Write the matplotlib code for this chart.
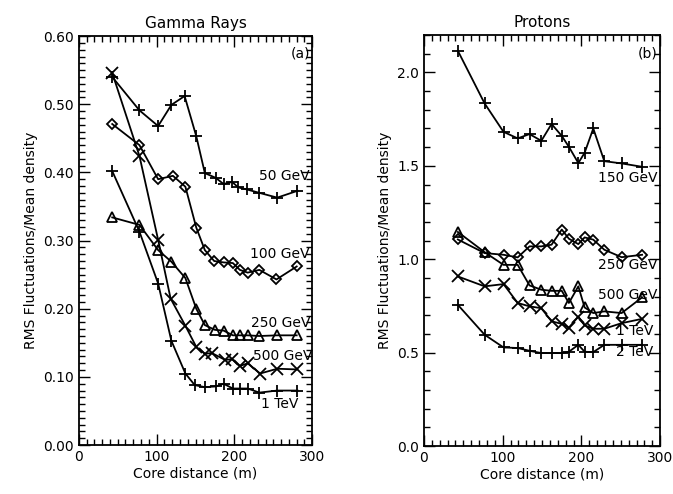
import matplotlib.pyplot as plt
from matplotlib.ticker import MultipleLocator

# ---- Gamma rays (panel a) ----
g50_x = [43, 78, 102, 119, 136, 151, 162, 176, 186, 197, 205, 216, 232, 255, 281]
g50_y = [0.540, 0.491, 0.468, 0.499, 0.512, 0.453, 0.399, 0.392, 0.383, 0.386, 0.378, 0.375, 0.370, 0.363, 0.373]

g100_x = [43, 78, 102, 121, 137, 151, 162, 174, 186, 198, 207, 217, 232, 254, 280]
g100_y = [0.471, 0.440, 0.390, 0.395, 0.379, 0.319, 0.286, 0.270, 0.268, 0.267, 0.257, 0.253, 0.257, 0.243, 0.262]

g250_x = [43, 78, 102, 119, 137, 151, 162, 175, 186, 198, 207, 217, 232, 255, 280]
g250_y = [0.334, 0.323, 0.286, 0.269, 0.245, 0.200, 0.176, 0.169, 0.168, 0.161, 0.161, 0.161, 0.160, 0.161, 0.161]

g500_x = [43, 78, 102, 118, 137, 151, 162, 171, 188, 197, 207, 217, 233, 255, 280]
g500_y = [0.546, 0.424, 0.301, 0.215, 0.175, 0.144, 0.134, 0.135, 0.125, 0.126, 0.116, 0.120, 0.105, 0.112, 0.111]

g1000_x = [43, 78, 102, 119, 137, 149, 162, 176, 186, 198, 207, 217, 232, 255, 281]
g1000_y = [0.402, 0.313, 0.237, 0.153, 0.105, 0.088, 0.085, 0.086, 0.090, 0.083, 0.083, 0.083, 0.077, 0.080, 0.080]

# ---- Protons (panel b) ----
p_x = [43, 77, 101, 119, 134, 149, 162, 175, 184, 196, 204, 215, 229, 251, 277]
p150_y = [2.116, 1.834, 1.682, 1.647, 1.670, 1.634, 1.724, 1.660, 1.602, 1.515, 1.570, 1.700, 1.525, 1.513, 1.495]
p250_y = [1.106, 1.033, 1.024, 1.010, 1.069, 1.069, 1.078, 1.159, 1.110, 1.081, 1.117, 1.105, 1.051, 1.011, 1.024]
p500_y = [1.146, 1.038, 0.970, 0.970, 0.860, 0.837, 0.831, 0.831, 0.766, 0.855, 0.742, 0.712, 0.721, 0.712, 0.796]
p1000_y = [0.908, 0.855, 0.867, 0.766, 0.748, 0.738, 0.668, 0.654, 0.634, 0.693, 0.646, 0.628, 0.628, 0.658, 0.681]
p2000_y = [0.756, 0.596, 0.528, 0.525, 0.510, 0.498, 0.498, 0.498, 0.505, 0.542, 0.505, 0.503, 0.542, 0.542, 0.542]

plt.rcParams["font.family"] = ["DejaVu Sans"]
fig = plt.figure(figsize=(6.73, 4.94), dpi=100)
ax1 = fig.add_axes([0.117, 0.099, 0.347, 0.828])
ax2 = fig.add_axes([0.630, 0.097, 0.351, 0.832])

line_kw = dict(color="black", linewidth=1.3, markerfacecolor="none", markeredgecolor="black", markeredgewidth=1.3)

ax1.plot(g50_x, g50_y, marker="+", markersize=9, **line_kw)
ax1.plot(g100_x, g100_y, marker="D", markersize=5, **line_kw)
ax1.plot(g250_x, g250_y, marker="^", markersize=7, **line_kw)
ax1.plot(g500_x, g500_y, marker="x", markersize=8, **line_kw)
ax1.plot(g1000_x, g1000_y, marker="+", markersize=9, **line_kw)

ax2.plot(p_x, p150_y, marker="+", markersize=9, **line_kw)
ax2.plot(p_x, p250_y, marker="D", markersize=5, **line_kw)
ax2.plot(p_x, p500_y, marker="^", markersize=7, **line_kw)
ax2.plot(p_x, p1000_y, marker="x", markersize=8, **line_kw)
ax2.plot(p_x, p2000_y, marker="+", markersize=9, **line_kw)

fs = 10
ax1.text(297, 0.394, "50 GeV", ha="right", va="center", fontsize=fs)
ax1.text(297, 0.281, "100 GeV", ha="right", va="center", fontsize=fs)
ax1.text(297, 0.179, "250 GeV", ha="right", va="center", fontsize=fs)
ax1.text(300, 0.130, "500 GeV", ha="right", va="center", fontsize=fs)
ax1.text(282, 0.060, "1 TeV", ha="right", va="center", fontsize=fs)
ax1.text(297, 0.575, "(a)", ha="right", va="center", fontsize=fs)

ax2.text(297, 1.435, "150 GeV", ha="right", va="center", fontsize=fs)
ax2.text(297, 0.970, "250 GeV", ha="right", va="center", fontsize=fs)
ax2.text(297, 0.810, "500 GeV", ha="right", va="center", fontsize=fs)
ax2.text(291, 0.614, "1 TeV", ha="right", va="center", fontsize=fs)
ax2.text(291, 0.503, "2 TeV", ha="right", va="center", fontsize=fs)
ax2.text(297, 2.100, "(b)", ha="right", va="center", fontsize=fs)

ax1.set_xlim(0, 300)
ax1.set_ylim(0, 0.6)
ax2.set_xlim(0, 300)
ax2.set_ylim(0, 2.2)

ax1.set_yticks([0.0, 0.1, 0.2, 0.3, 0.4, 0.5, 0.6])
ax1.set_yticklabels(["0.00", "0.10", "0.20", "0.30", "0.40", "0.50", "0.60"])
ax1.yaxis.set_minor_locator(MultipleLocator(0.01))
ax2.set_yticks([0.0, 0.5, 1.0, 1.5, 2.0])
ax2.set_yticklabels(["0.0", "0.5", "1.0", "1.5", "2.0"])
ax2.yaxis.set_minor_locator(MultipleLocator(0.1))

for ax, title in [(ax1, "Gamma Rays"), (ax2, "Protons")]:
    ax.set_xticks([0, 100, 200, 300])
    ax.xaxis.set_minor_locator(MultipleLocator(10))
    ax.tick_params(which="both", direction="in", top=True, right=True, labelsize=fs, width=1.0)
    ax.tick_params(which="major", length=8)
    ax.tick_params(which="minor", length=4)
    ax.set_xlabel("Core distance (m)", fontsize=fs, labelpad=2)
    ax.set_ylabel("RMS Fluctuations/Mean density", fontsize=fs)
    ax.set_title(title, fontsize=11, pad=6)
    for spine in ax.spines.values():
        spine.set_linewidth(1.3)

fig.savefig("out.png", dpi=100)
